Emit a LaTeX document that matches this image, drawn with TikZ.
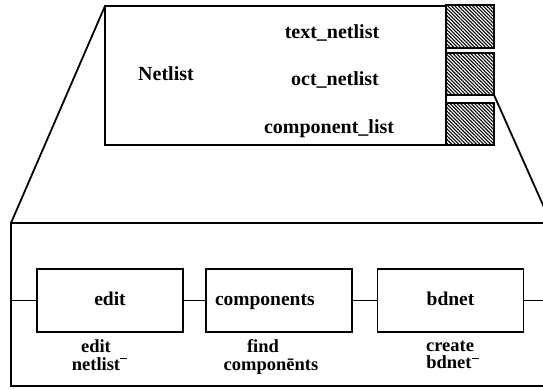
\documentclass[tikz,border=0pt]{standalone}
\usepackage{fontspec}
\setmainfont{Liberation Serif}
\usetikzlibrary{patterns.meta}
\tikzset{
  frame/.style={draw, line width=1.8pt, inner sep=0pt, outer sep=0pt},
  hatch/.style={frame, pattern={Lines[angle=-45,distance=2.5pt,line width=1.1pt]}},
  stage/.style={frame, minimum width=146pt, minimum height=63pt,
    font=\fontsize{19.5}{14}\selectfont\bfseries, text height=13pt, text depth=4pt},
  caption/.style={anchor=base, inner sep=0pt, font=\fontsize{18.5}{14}\selectfont\bfseries},
  title/.style={anchor=base, inner sep=0pt, font=\fontsize{20}{22}\selectfont\bfseries},
  link/.style={line width=1.8pt}
}
\begin{document}
\begin{tikzpicture}[x=1pt,y=-1pt]
\useasboundingbox (0,0) rectangle (543,389);
\clip (0,0) rectangle (543,389);

% Netlist object with its three hatched ports
\node[frame, minimum width=341pt, minimum height=139pt] (net) at (275.5,75.5) {};
\node[hatch, minimum width=48pt, minimum height=43pt] (sqa) at (470,26.5) {};
\node[hatch, minimum width=48pt, minimum height=42pt] (sqb) at (470,74) {};
\node[hatch, minimum width=48pt, minimum height=42pt] (sqc) at (470,124) {};

\node[title] (tname) at (166,80.5) {Netlist};
\node[title] (ttext) at (332,38.5) {text\_netlist};
\node[title] (toct)  at (335,85)   {oct\_netlist};
\node[title] (tcomp) at (329,133)  {component\_list};

% Expanded view of the component_list method
\node[frame, minimum width=540pt, minimum height=163pt] (proc) at (281,304.5) {};

\node[stage] (edit) at (110,300.5) {edit};
\node[stage, text width=128pt, align=left] (comp) at (279,300.5) {components};
\node[stage] (bdnet) at (450.5,300.5) {bdnet};

\draw[link] (proc.west |- edit) -- (edit.west);
\draw[link] (edit) -- (comp);
\draw[link] (comp) -- (bdnet);
\draw[link] (bdnet) -- (proc.east |- bdnet);

\node[caption] (c1a) at (96,352)  {edit};
\node[caption] (c1b) at (96,370)  {netlist\rlap{\rule[0.6em]{0.35em}{1.1pt}}};
\node[caption] (c2a) at (263,352) {find};
\node[caption] (c2b) at (271,370) {compon\={e}nts};
\node[caption] (c3a) at (450,351) {create};
\node[caption] (c3b) at (449,368) {bdnet\rlap{\rule[0.5em]{0.4em}{1.1pt}}};

% Zoom lines from the object to its expansion
\draw[link] (net.north west) -- (proc.north west);
\draw[link] (sqb.south east) -- (proc.north east);
\end{tikzpicture}
\end{document}
